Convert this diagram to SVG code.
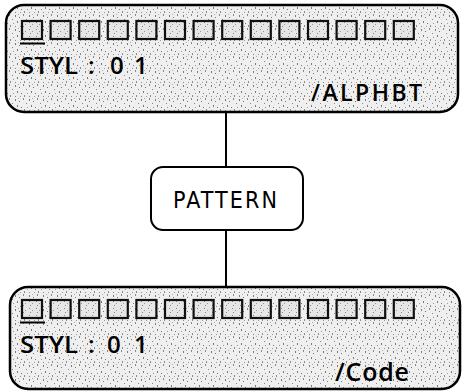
<svg xmlns="http://www.w3.org/2000/svg" width="462" height="391" viewBox="0 0 462 391">
<style>
.panel{fill:url(#stip);stroke:#000;stroke-width:2.5}
.sq{fill:url(#stip2);stroke:#111;stroke-width:2.2}
.pbox{fill:#fff;stroke:#000;stroke-width:2}
.conn{stroke:#000;stroke-width:2;fill:none}
.lbl{font-family:"Open Sans","Liberation Sans",Arial,sans-serif;font-weight:600;fill:#000}
.plbl{font-family:"DejaVu Sans Condensed","DejaVu Sans","Liberation Sans",sans-serif;fill:#000}
</style>
<defs>
<pattern id="stip" width="14" height="14" patternUnits="userSpaceOnUse">
<rect width="14" height="14" fill="#efefef"/>
<rect x="1" y="1" width="1" height="2" fill="#7a7a7a"/>
<rect x="5" y="3" width="1" height="1" fill="#777"/>
<rect x="9" y="0" width="1" height="2" fill="#8a8a8a"/>
<rect x="12" y="5" width="1" height="1" fill="#888"/>
<rect x="3" y="7" width="1" height="2" fill="#7a7a7a"/>
<rect x="7" y="9" width="1" height="1" fill="#777"/>
<rect x="10" y="11" width="1" height="2" fill="#8a8a8a"/>
<rect x="1" y="12" width="1" height="1" fill="#888"/>
<rect x="6" y="12" width="1" height="1" fill="#999"/>
<rect x="13" y="9" width="1" height="1" fill="#999"/>
<rect x="4" y="0" width="1" height="1" fill="#aaa"/>
</pattern>
<pattern id="stip2" width="7" height="7" patternUnits="userSpaceOnUse">
<rect width="7" height="7" fill="#e6e6e6"/>
<rect x="1" y="1" width="1" height="1" fill="#888"/>
<rect x="4" y="3" width="1" height="1" fill="#999"/>
<rect x="2" y="5" width="1" height="1" fill="#888"/>
</pattern>
<g id="row">
<rect class="sq" x="22" y="0" width="20" height="18"/>
<rect class="sq" x="50.6" y="0" width="20" height="18"/>
<rect class="sq" x="79.2" y="0" width="20" height="18"/>
<rect class="sq" x="107.8" y="0" width="20" height="18"/>
<rect class="sq" x="136.4" y="0" width="20" height="18"/>
<rect class="sq" x="165" y="0" width="20" height="18"/>
<rect class="sq" x="193.6" y="0" width="20" height="18"/>
<rect class="sq" x="222.2" y="0" width="20" height="18"/>
<rect class="sq" x="250.8" y="0" width="20" height="18"/>
<rect class="sq" x="279.4" y="0" width="20" height="18"/>
<rect class="sq" x="308" y="0" width="20" height="18"/>
<rect class="sq" x="336.6" y="0" width="20" height="18"/>
<rect class="sq" x="365.2" y="0" width="20" height="18"/>
<rect class="sq" x="393.8" y="0" width="20" height="18"/>
<line x1="20" y1="22.5" x2="45" y2="22.5" stroke="#000" stroke-width="2"/>
</g>
</defs>
<g id="connectors">
<line class="conn" x1="226" y1="112" x2="226" y2="167"/>
<line class="conn" x1="226" y1="230" x2="226" y2="287"/>
</g>
<g id="alphbt">
<rect class="panel" x="6" y="5" width="452" height="107" rx="18" ry="18"/>
<use href="#row" y="21"/>
<text class="lbl" y="74" font-size="24"><tspan x="20" textLength="58" lengthAdjust="spacingAndGlyphs">STYL</tspan> <tspan x="88">:</tspan> <tspan x="110">0</tspan> <tspan x="134">1</tspan></text>
<text class="lbl" x="311" y="101" font-size="23" textLength="111" lengthAdjust="spacing">/ALPHBT</text>
</g>
<g id="pattern">
<rect class="pbox" x="151" y="167" width="152" height="63" rx="12" ry="12"/>
<text class="plbl" x="173" y="208" font-size="23" textLength="104" lengthAdjust="spacing">PATTERN</text>
</g>
<g id="code">
<rect class="panel" x="10" y="287" width="450" height="102" rx="18" ry="18"/>
<use href="#row" y="300"/>
<text class="lbl" y="353" font-size="24"><tspan x="20" textLength="58" lengthAdjust="spacingAndGlyphs">STYL</tspan> <tspan x="88">:</tspan> <tspan x="107">0</tspan> <tspan x="134">1</tspan></text>
<text class="lbl" x="335" y="381" font-size="25" textLength="74" lengthAdjust="spacing">/Code</text>
</g>
</svg>
